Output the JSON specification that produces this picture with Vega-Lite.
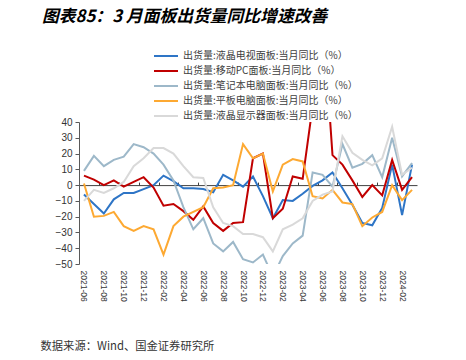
{
  "$schema": "https://vega.github.io/schema/vega-lite/v6.json",
  "width": 338,
  "height": 142,
  "autosize": {"type": "none"},
  "padding": {"left": 79, "top": 122, "right": 49, "bottom": 96},
  "background": "white",
  "config": {"view": {"stroke": null}, "font": "Liberation Sans"},
  "title": {
    "text": "图表85：3 月面板出货量同比增速改善",
    "anchor": "start",
    "frame": "group",
    "font": "Noto Sans CJK SC",
    "fontSize": 16.8,
    "fontStyle": "italic",
    "fontWeight": "bold",
    "color": "#000000",
    "dx": -37,
    "dy": 21
  },
  "data": {
    "values": [
      {"m": "2021-06", "tv": -6, "pc": 6, "nb": 9, "tab": 1, "mon": -10},
      {"m": "2021-07", "tv": -12, "pc": 3.5, "nb": 18.5, "tab": -20, "mon": -3},
      {"m": "2021-08", "tv": -18, "pc": 0, "nb": 12, "tab": -19.5, "mon": -5},
      {"m": "2021-09", "tv": -9, "pc": 3, "nb": 16, "tab": -17, "mon": -2},
      {"m": "2021-10", "tv": -5, "pc": -1, "nb": 18, "tab": -26, "mon": 2},
      {"m": "2021-11", "tv": -5, "pc": 2, "nb": 26, "tab": -29, "mon": 12},
      {"m": "2021-12", "tv": -2.5, "pc": 5, "nb": 24, "tab": -26, "mon": 17},
      {"m": "2022-01", "tv": 0, "pc": -1.5, "nb": 20, "tab": -28, "mon": 23.5},
      {"m": "2022-02", "tv": 6, "pc": -13, "nb": 13, "tab": -44, "mon": 23.5},
      {"m": "2022-03", "tv": 2.5, "pc": -12, "nb": 3, "tab": -26, "mon": 20},
      {"m": "2022-04", "tv": -2, "pc": -16.5, "nb": -14, "tab": -20, "mon": 12},
      {"m": "2022-05", "tv": -2, "pc": -22, "nb": -28, "tab": -17, "mon": 5},
      {"m": "2022-06", "tv": -2.5, "pc": -13.5, "nb": -21, "tab": -14, "mon": 4.5},
      {"m": "2022-07", "tv": -4.5, "pc": -24, "nb": -37, "tab": -2, "mon": -14},
      {"m": "2022-08", "tv": 6.5, "pc": -29, "nb": -42, "tab": -1.5, "mon": -24},
      {"m": "2022-09", "tv": 3, "pc": -24, "nb": -36, "tab": 0, "mon": -26},
      {"m": "2022-10", "tv": -1, "pc": -23.5, "nb": -47, "tab": 26, "mon": -31},
      {"m": "2022-11", "tv": 5.5, "pc": 17, "nb": -49, "tab": 17, "mon": -31},
      {"m": "2022-12", "tv": -7, "pc": 20, "nb": -44, "tab": 20, "mon": -33},
      {"m": "2023-01", "tv": -21, "pc": -21, "nb": -58, "tab": -4, "mon": -42},
      {"m": "2023-02", "tv": -9.5, "pc": -15, "nb": -45, "tab": 13, "mon": -28},
      {"m": "2023-03", "tv": -10, "pc": 5.5, "nb": -37, "tab": 16.5, "mon": -25},
      {"m": "2023-04", "tv": -5.5, "pc": 4, "nb": -32, "tab": 15, "mon": -21},
      {"m": "2023-05", "tv": -0.5, "pc": 50, "nb": 8, "tab": -7, "mon": -10},
      {"m": "2023-06", "tv": 3, "pc": 110, "nb": 6.5, "tab": -8.5, "mon": -6},
      {"m": "2023-07", "tv": 8, "pc": 19, "nb": -1, "tab": -3, "mon": -4},
      {"m": "2023-08", "tv": -2, "pc": 13, "nb": 26, "tab": -11, "mon": 31},
      {"m": "2023-09", "tv": -12.5, "pc": 3, "nb": 11, "tab": -12, "mon": 20.5},
      {"m": "2023-10", "tv": -24, "pc": -7.5, "nb": 13.5, "tab": -26, "mon": 16},
      {"m": "2023-11", "tv": -25.5, "pc": 0, "nb": 19, "tab": -20.5, "mon": 12.5},
      {"m": "2023-12", "tv": -14.5, "pc": -6.5, "nb": 5, "tab": -17, "mon": 17},
      {"m": "2024-01", "tv": 13, "pc": 16, "nb": 30, "tab": 0, "mon": 37},
      {"m": "2024-02", "tv": -19, "pc": -3, "nb": 5.5, "tab": -9.5, "mon": 6.5},
      {"m": "2024-03", "tv": 13, "pc": 5, "nb": 14, "tab": -3, "mon": 11}
    ]
  },
  "transform": [{"fold": ["tv", "pc", "nb", "tab", "mon"], "as": ["s", "v"]}],
  "layer": [
    {
      "mark": {"type": "line", "strokeWidth": 2, "clip": true},
      "encoding": {
        "x": {
          "field": "m", "type": "ordinal",
          "scale": {"type": "point", "padding": 0.5},
          "axis": {
            "orient": "bottom",
            "values": ["2021-06","2021-08","2021-10","2021-12","2022-02","2022-04","2022-06","2022-08","2022-10","2022-12","2023-02","2023-04","2023-06","2023-08","2023-10","2023-12","2024-02"],
            "labelAngle": 90, "labelAlign": "left", "labelBaseline": "middle",
            "domain": false, "ticks": false, "labelPadding": 6,
            "labelFontSize": 8.5, "labelColor": "#333333",
            "title": "数据来源：Wind、国金证券研究所",
            "titleFont": "Noto Sans CJK SC", "titleFontSize": 11.3, "titleFontWeight": "normal",
            "titleColor": "#333333", "titleAnchor": "start", "titleAlign": "left", "titleBaseline": "middle",
            "titleX": -39, "titleY": 82
          }
        },
        "y": {
          "field": "v", "type": "quantitative",
          "scale": {"domain": [-50, 40], "nice": false, "zero": false},
          "axis": {
            "values": [-50, -40, -30, -20, -10, 0, 10, 20, 30, 40],
            "tickCount": 10,
            "labelOverlap": false,
            "grid": false, "title": null,
            "domainColor": "#595959", "tickColor": "#595959", "tickSize": 4,
            "labelFontSize": 10, "labelColor": "#333333", "labelPadding": 3
          }
        },
        "color": {
          "field": "s", "type": "nominal",
          "scale": {"domain": ["tv", "pc", "nb", "tab", "mon"], "range": ["#2E75C6", "#C00000", "#9DB8C9", "#FDA932", "#D9D9D9"]},
          "legend": {
            "orient": "none", "legendX": 74, "legendY": -73,
            "title": null, "symbolType": "stroke", "symbolStrokeWidth": 2, "symbolSize": 576,
            "labelFont": "Noto Sans CJK SC", "labelFontSize": 10, "labelColor": "#404040",
            "labelLimit": 0, "clipHeight": 14.2,
            "rowPadding": 0, "labelOffset": 4,
            "labelExpr": "datum.value == 'tv' ? '出货量:液晶电视面板:当月同比（%）' : datum.value == 'pc' ? '出货量:移动PC面板:当月同比（%）' : datum.value == 'nb' ? '出货量:笔记本电脑面板:当月同比（%）' : datum.value == 'tab' ? '出货量:平板电脑面板:当月同比（%）' : '出货量:液晶显示器面板:当月同比（%）'"
          }
        }
      }
    },
    {
      "mark": {"type": "point", "opacity": 0},
      "encoding": {
        "x": {
          "field": "m", "type": "ordinal",
          "scale": {"type": "point", "padding": 0.5},
          "axis": {
            "orient": "top", "offset": -63.1,
            "values": ["2021-06","2021-08","2021-10","2021-12","2022-02","2022-04","2022-06","2022-08","2022-10","2022-12","2023-02","2023-04","2023-06","2023-08","2023-10","2023-12","2024-02"],
            "labels": false, "title": null,
            "domainColor": "#404040", "domainWidth": 1,
            "tickColor": "#404040", "tickSize": 3, "tickOffset": -4.97
          }
        },
        "y": {"field": "v", "type": "quantitative"}
      }
    }
  ],
  "resolve": {"axis": {"x": "independent"}}
}
